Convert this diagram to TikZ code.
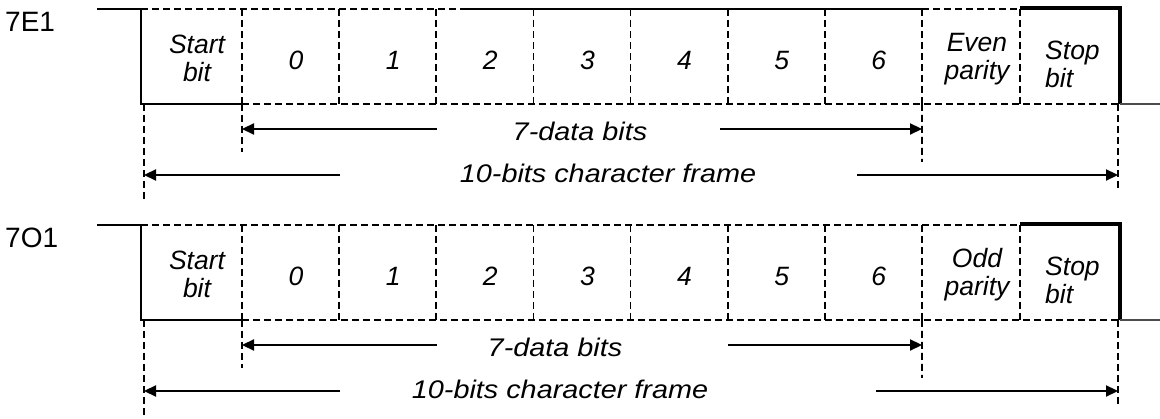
\documentclass[tikz,border=0pt]{standalone}
\usepackage{fontspec}
\setmainfont{Liberation Sans}
\newfontfamily\widefont{Liberation Sans}[FakeStretch=1.13]
\usetikzlibrary{arrows.meta,calc}

\begin{document}
\begin{tikzpicture}[x=1pt, y=-1pt,
  >={Triangle[length=12pt, width=11pt]},
  sig/.style={line width=2.4pt},
  hold/.style={line width=3.2pt},
  cell/.style={line width=1.8pt, dash pattern=on 7pt off 4pt},
  span/.style={line width=2.2pt},
  bit/.style={font=\fontsize{26.5}{28}\selectfont\itshape, align=center, inner sep=0pt},
  spanlbl/.style={font=\widefont\fontsize{25.5}{28}\selectfont\itshape, inner sep=0pt, anchor=base},
  fmtlbl/.style={font=\fontsize{28}{30}\selectfont, inner sep=0pt, anchor=west}]
\useasboundingbox (0,0) rectangle (1160,419);

\foreach \f/\fy/\name/\pty/\dx/\rx/\fx/\gx in
  {1/0/7E1/Even/580/720/608/857, 2/216/7O1/Odd/555/728/560/876} {
  \begin{scope}[yshift=-\fy pt]
    \node[fmtlbl] (lab\f) at (5,22) {\name};
    % line levels
    \coordinate (hi\f) at (97,9);
    \coordinate (a\f) at (141,9);
    \coordinate (b\f) at (141,104);
    \coordinate (c\f) at (242,104);
    \coordinate (m\f) at (463,9);
    \coordinate (p\f) at (922,9);
    \coordinate (s\f) at (1020,9);
    \coordinate (st\f) at (1020,8);
    \coordinate (e\f) at (1120,8);
    \coordinate (g\f) at (1120,104);
    \coordinate (z\f) at (1160,104);
    % cell borders
    \draw[cell] (a\f) -- (s\f);
    \draw[cell] (c\f) -- (g\f);
    \foreach \k in {0,...,7} {
      \coordinate (v\k\f) at ({242+97.14*\k},9);
      \coordinate (w\k\f) at ({242+97.14*\k},104);
      \draw[cell] (v\k\f) -- (w\k\f);
    }
    \coordinate (sb\f) at (1020,104);
    \draw[cell] (s\f) -- (sb\f);
    % signal
    \draw[sig] (hi\f) -- (a\f) -- (b\f) -- (c\f);
    \draw[hold] (st\f) -- (e\f) -- (g\f);
    \draw[sig, gray!60!black] (g\f) -- (z\f);
    % bit names
    \node[bit] (start\f) at (197,58) {Start\\bit};
    \foreach \k in {0,...,6}
      \node[bit, anchor=base] (d\k\f) at ({242+97.14*\k+54},70) {\k};
    \node[bit] (par\f) at (977,59) {\pty\\parity};
    \node[bit, align=left, anchor=west] (stop\f) at (1045,64) {Stop\\bit};
    % spans
    \coordinate (x0\f) at (242,152);
    \coordinate (x7\f) at (922,162);
    \draw[cell] (w0\f) -- (x0\f);
    \draw[cell] (w7\f) -- (x7\f);
    \coordinate (fl\f) at (144,104);
    \coordinate (flb\f) at (144,200);
    \coordinate (fr\f) at (1118,104);
    \coordinate (frb\f) at (1118,188);
    \draw[cell] (fl\f) -- (flb\f);
    \draw[cell] (fr\f) -- (frb\f);
    \coordinate (dl\f) at (242,129);
    \coordinate (dm\f) at (437,129);
    \coordinate (dn\f) at (\rx,129);
    \coordinate (dr\f) at (922,129);
    \draw[span,->] (dm\f) -- (dl\f);
    \draw[span,->] (dn\f) -- (dr\f);
    \node[spanlbl] (data\f) at (\dx,141) {7-data bits};
    \coordinate (kl\f) at (144,175);
    \coordinate (km\f) at (340,175);
    \coordinate (kn\f) at (\gx,175);
    \coordinate (kr\f) at (1118,175);
    \draw[span,->] (km\f) -- (kl\f);
    \draw[span,->] (kn\f) -- (kr\f);
    \node[spanlbl] (frame\f) at (\fx,183) {10-bits character frame};
  \end{scope}
}
\draw[sig] (m1) -- (p1);
\end{tikzpicture}
\end{document}
